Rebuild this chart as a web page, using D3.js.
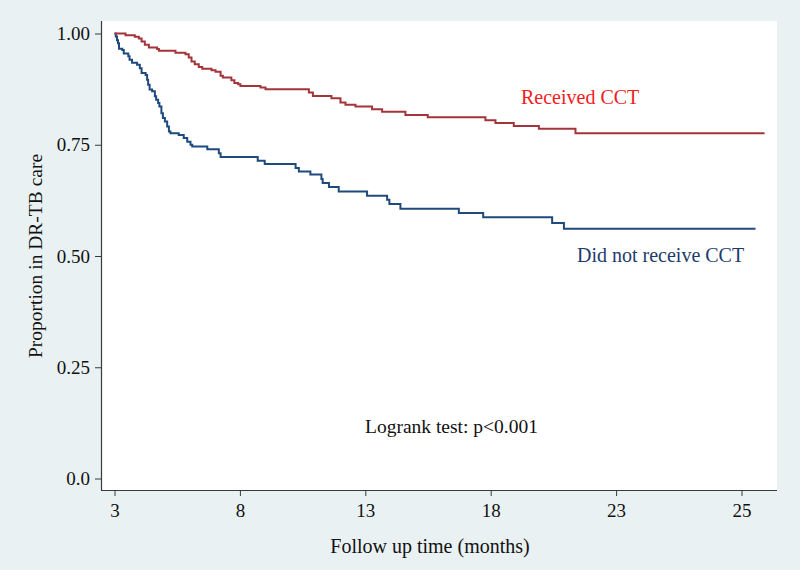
<!DOCTYPE html>
<html>
<head>
<meta charset="utf-8">
<script src="https://cdn.jsdelivr.net/npm/d3@7"></script>
<style>
  html, body { margin: 0; padding: 0; background: #e9f1f3; }
  svg { display: block; }
  text { font-family: "Liberation Serif", "Times New Roman", serif; }
</style>
</head>
<body>
<svg id="chart" width="800" height="570"></svg>
<script>
// ---- data ----
const receivedTime = [3, 3.44, 3.81, 3.97, 4.08, 4.21, 4.37, 4.70, 4.77, 5.43, 5.83, 5.96, 6.07, 6.20, 6.36, 6.50, 6.87, 7.03, 7.23, 7.32, 7.66, 7.78, 7.93, 8.02, 8.82, 9.02, 10.75, 10.91, 11.65, 12.01, 12.21, 12.61, 13.27, 13.67, 14.60, 15.49, 17.79, 18.19, 18.92, 19.92, 21.38, 28.92];
const receivedSurv = [1.0, 0.996, 0.9925, 0.989, 0.982, 0.9745, 0.9685, 0.965, 0.961, 0.957, 0.9535, 0.946, 0.937, 0.931, 0.925, 0.921, 0.9175, 0.914, 0.905, 0.901, 0.895, 0.889, 0.886, 0.882, 0.8786, 0.8748, 0.8674, 0.8598, 0.8546, 0.845, 0.840, 0.836, 0.830, 0.824, 0.817, 0.812, 0.805, 0.799, 0.792, 0.786, 0.776, 0.776];

const notReceivedTime = [3, 3.05, 3.10, 3.14, 3.18, 3.31, 3.37, 3.55, 3.60, 3.70, 3.90, 4.01, 4.08, 4.24, 4.30, 4.34, 4.40, 4.50, 4.61, 4.66, 4.74, 4.79, 4.87, 4.93, 5.01, 5.10, 5.17, 5.23, 5.56, 5.76, 5.90, 6.03, 6.10, 6.70, 7.16, 7.23, 8.71, 8.99, 10.22, 10.35, 10.81, 11.25, 11.30, 11.55, 11.94, 13.07, 13.87, 13.96, 14.40, 16.73, 17.70, 20.45, 20.92, 28.56];
const notReceivedSurv = [1.0, 0.993, 0.985, 0.978, 0.966, 0.963, 0.955, 0.949, 0.941, 0.934, 0.930, 0.922, 0.911, 0.907, 0.896, 0.885, 0.874, 0.870, 0.859, 0.851, 0.844, 0.836, 0.821, 0.810, 0.802, 0.791, 0.780, 0.776, 0.772, 0.765, 0.757, 0.750, 0.746, 0.740, 0.731, 0.7225, 0.714, 0.7067, 0.698, 0.690, 0.683, 0.673, 0.664, 0.655, 0.645, 0.6355, 0.6265, 0.617, 0.606, 0.5966, 0.587, 0.574, 0.561, 0.561];

const xTickValues = [3, 8, 13, 18, 23, 28];
const xTickLabels = ["3", "8", "13", "18", "23", "25"];
const yTickValues = [0, 0.25, 0.5, 0.75, 1.0];
const yTickLabels = ["0.0", "0.25", "0.50", "0.75", "1.00"];

const seriesNames = ["Received CCT", "Did not receive CCT"];
const xTitle = "Follow up time (months)";
const yTitle = "Proportion in DR-TB care";
const testNote = "Logrank test: p<0.001";

// ---- drawing ----
const svg = d3.select("#chart");
const W = 800, H = 570;
const plot = { left: 101, right: 777, top: 21, bottom: 490 };

svg.append("rect").attr("x", 0).attr("y", 0).attr("width", W).attr("height", H).attr("fill", "#e9f1f3");
svg.append("rect")
  .attr("x", plot.left).attr("y", plot.top)
  .attr("width", plot.right - plot.left).attr("height", plot.bottom - plot.top)
  .attr("fill", "#ffffff");

const x = d3.scaleLinear().domain([3, 28]).range([114.5, 741.5]);
const y = d3.scaleLinear().domain([0, 1]).range([478.5, 33.5]);

// axes
const xAxis = d3.axisBottom(x).tickValues(xTickValues)
  .tickFormat((d, i) => xTickLabels[i]).tickSizeOuter(0).tickSize(6).tickPadding(8);
const gx = svg.append("g").attr("transform", `translate(0,${plot.bottom})`).call(xAxis);
gx.select(".domain").attr("d", `M${plot.left},0.5H${plot.right}`);

const yAxis = d3.axisLeft(y).tickValues(yTickValues)
  .tickFormat((d, i) => yTickLabels[i]).tickSizeOuter(0).tickSize(6).tickPadding(5);
const gy = svg.append("g").attr("transform", `translate(${plot.left},0)`).call(yAxis);
gy.select(".domain").attr("d", `M0.5,${plot.top}V${plot.bottom}`);

[gx, gy].forEach(g => {
  g.select(".domain").attr("stroke", "#3a3a3a").attr("stroke-width", 1.2);
  g.selectAll(".tick line").attr("stroke", "#3a3a3a").attr("stroke-width", 1);
  g.selectAll(".tick text").attr("fill", "#111").style("font-size", "19px")
    .style("font-family", "'Liberation Serif', serif");
});

// curves
const line = d3.line().x(d => x(d[0])).y(d => y(d[1])).curve(d3.curveStepAfter);
const redData = receivedTime.map((t, i) => [t, receivedSurv[i]]);
const blueData = notReceivedTime.map((t, i) => [t, notReceivedSurv[i]]);

svg.append("path").datum(blueData).attr("d", line)
  .attr("fill", "none").attr("stroke", "#1f4a7e").attr("stroke-width", 2);
svg.append("path").datum(redData).attr("d", line)
  .attr("fill", "none").attr("stroke", "#a3353a").attr("stroke-width", 2);

// labels
svg.append("text").attr("x", 521).attr("y", 104).attr("fill", "#f21c1c")
  .style("font-size", "20px").text(seriesNames[0]);
svg.append("text").attr("x", 577).attr("y", 262).attr("fill", "#1d3b6c")
  .style("font-size", "20px").text(seriesNames[1]);
svg.append("text").attr("x", 365).attr("y", 433).attr("fill", "#111")
  .style("font-size", "19.5px").text(testNote);

svg.append("text").attr("x", 430).attr("y", 553).attr("text-anchor", "middle")
  .attr("fill", "#111").style("font-size", "20px").text(xTitle);
svg.append("text").attr("transform", `translate(42,256) rotate(-90)`)
  .attr("text-anchor", "middle").attr("fill", "#111").style("font-size", "19.5px").text(yTitle);
</script>
</body>
</html>
